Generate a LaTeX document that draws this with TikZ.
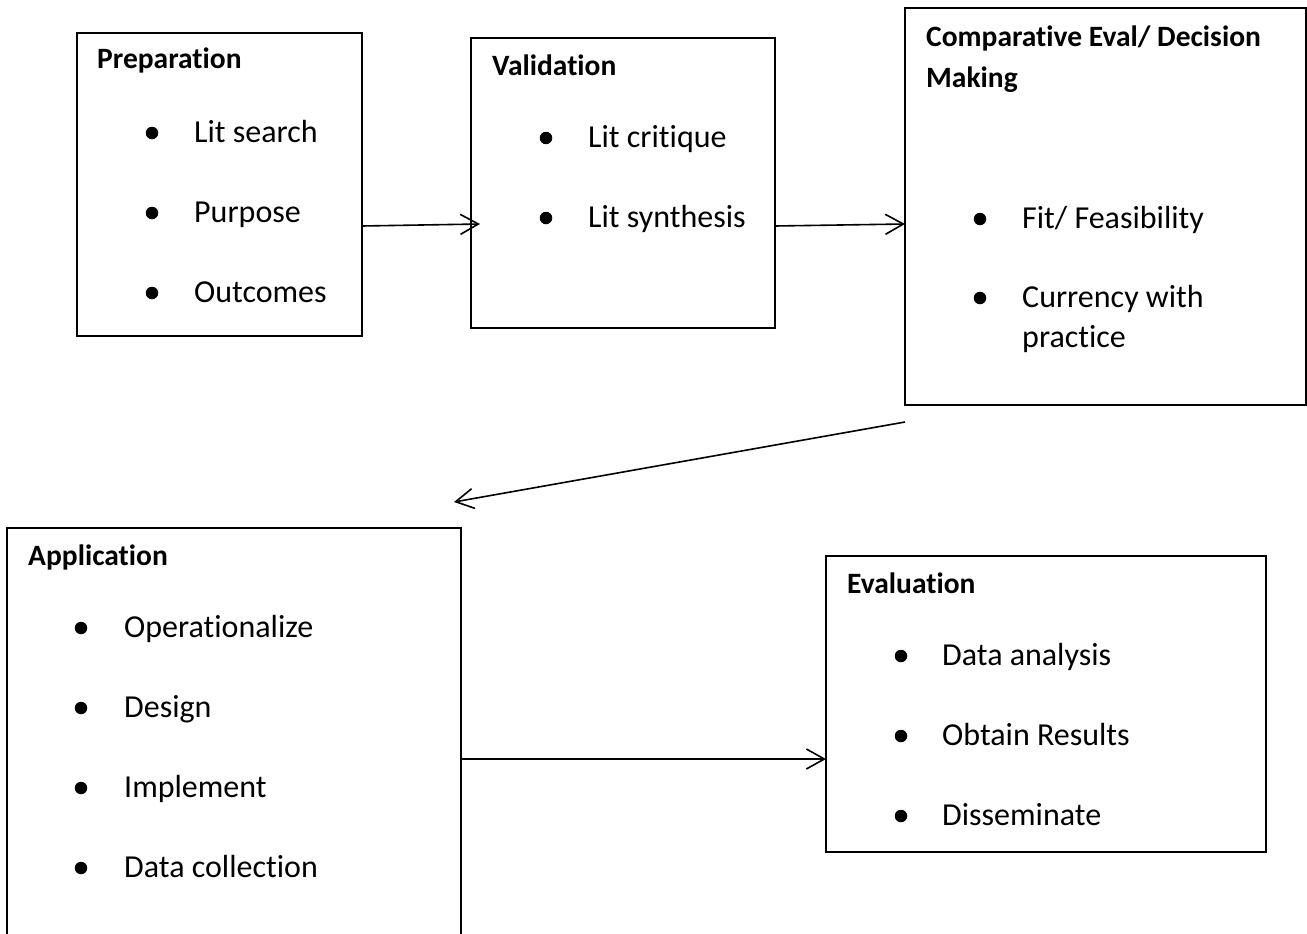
\documentclass[tikz,border=0pt]{standalone}
\usepackage{fontspec}
\setmainfont{Carlito}[Ligatures=NoCommon]
\usetikzlibrary{arrows.meta}
\tikzset{
  box/.style={draw=black, line width=1.3pt, anchor=north west, inner sep=0pt, outer sep=0pt},
  ttl/.style={anchor=base west, inner sep=0pt, font=\fontsize{29.5}{34}\selectfont\bfseries},
  itm/.style={anchor=base west, inner sep=0pt, font=\fontsize{32}{40}\selectfont},
  dot/.style={circle, fill=black, inner sep=0pt, minimum size=12.5pt},
  conn/.style={line width=1.6pt, -{Straight Barb[length=18pt,width=20pt,line width=1.6pt]}}
}
\begin{document}
\begin{tikzpicture}[x=1pt,y=-1pt]
\clip (0,0) rectangle (1307,934);
% boxes
\node[box, minimum width=285pt, minimum height=303pt] (prep) at (77,33) {};
\node[box, minimum width=304pt, minimum height=290pt] (val) at (471,38) {};
\node[box, minimum width=401pt, minimum height=397pt] (comp) at (905,8) {};
\node[box, minimum width=454pt, minimum height=422pt] (app) at (7,528) {};
\node[box, minimum width=440pt, minimum height=296pt] (eval) at (826,556) {};
% Preparation
\node[ttl] (pt) at (97,69) {Preparation};
\node[dot] (pd1) at (152,133) {};
\node[itm] (pi1) at (194,142) {Lit search};
\node[dot] (pd2) at (152,213) {};
\node[itm] (pi2) at (194,222) {Purpose};
\node[dot] (pd3) at (152,293) {};
\node[itm] (pi3) at (194,302) {Outcomes};
% Validation
\node[ttl] (vt) at (492,75) {Validation};
\node[dot] (vd1) at (546,138) {};
\node[itm] (vi1) at (588,147) {Lit critique};
\node[dot] (vd2) at (546,218) {};
\node[itm] (vi2) at (588,227) {Lit synthesis};
% Comparative
\node[ttl] (ct1) at (926,47) {Comparative Eval/ Decision};
\node[ttl] (ct2) at (926,88) {Making};
\node[dot] (cd1) at (980,219) {};
\node[itm] (ci1) at (1022,228) {Fit/ Feasibility};
\node[dot] (cd2) at (980,298) {};
\node[itm] (ci2) at (1022,307) {Currency with};
\node[itm] (ci3) at (1022,347) {practice};
% Application
\node[ttl] (at) at (28,565) {Application};
\node[dot] (ad1) at (81,628) {};
\node[itm] (ai1) at (124,637) {Operationalize};
\node[dot] (ad2) at (81,708) {};
\node[itm] (ai2) at (124,717) {Design};
\node[dot] (ad3) at (81,788) {};
\node[itm] (ai3) at (124,797) {Implement};
\node[dot] (ad4) at (81,868) {};
\node[itm] (ai4) at (124,877) {Data collection};
% Evaluation
\node[ttl] (et) at (847,593) {Evaluation};
\node[dot] (ed1) at (901,656) {};
\node[itm] (ei1) at (942,665) {Data analysis};
\node[dot] (ed2) at (901,736) {};
\node[itm] (ei2) at (942,745) {Obtain Results};
\node[dot] (ed3) at (901,816) {};
\node[itm] (ei3) at (942,825) {Disseminate};
% connectors
\draw[conn] ([yshift=-41.5pt]prep.east) -- ([xshift=9pt,yshift=-41pt]val.west);
\draw[conn] ([yshift=-43pt]val.east) -- ([yshift=-17.5pt]comp.west);
\draw[conn] ([yshift=-17pt]comp.south west) -- ([xshift=-7pt,yshift=26pt]app.north east);
\draw[conn] ([yshift=-231pt]app.north east) -- ([yshift=-55pt]eval.west);
\end{tikzpicture}
\end{document}
